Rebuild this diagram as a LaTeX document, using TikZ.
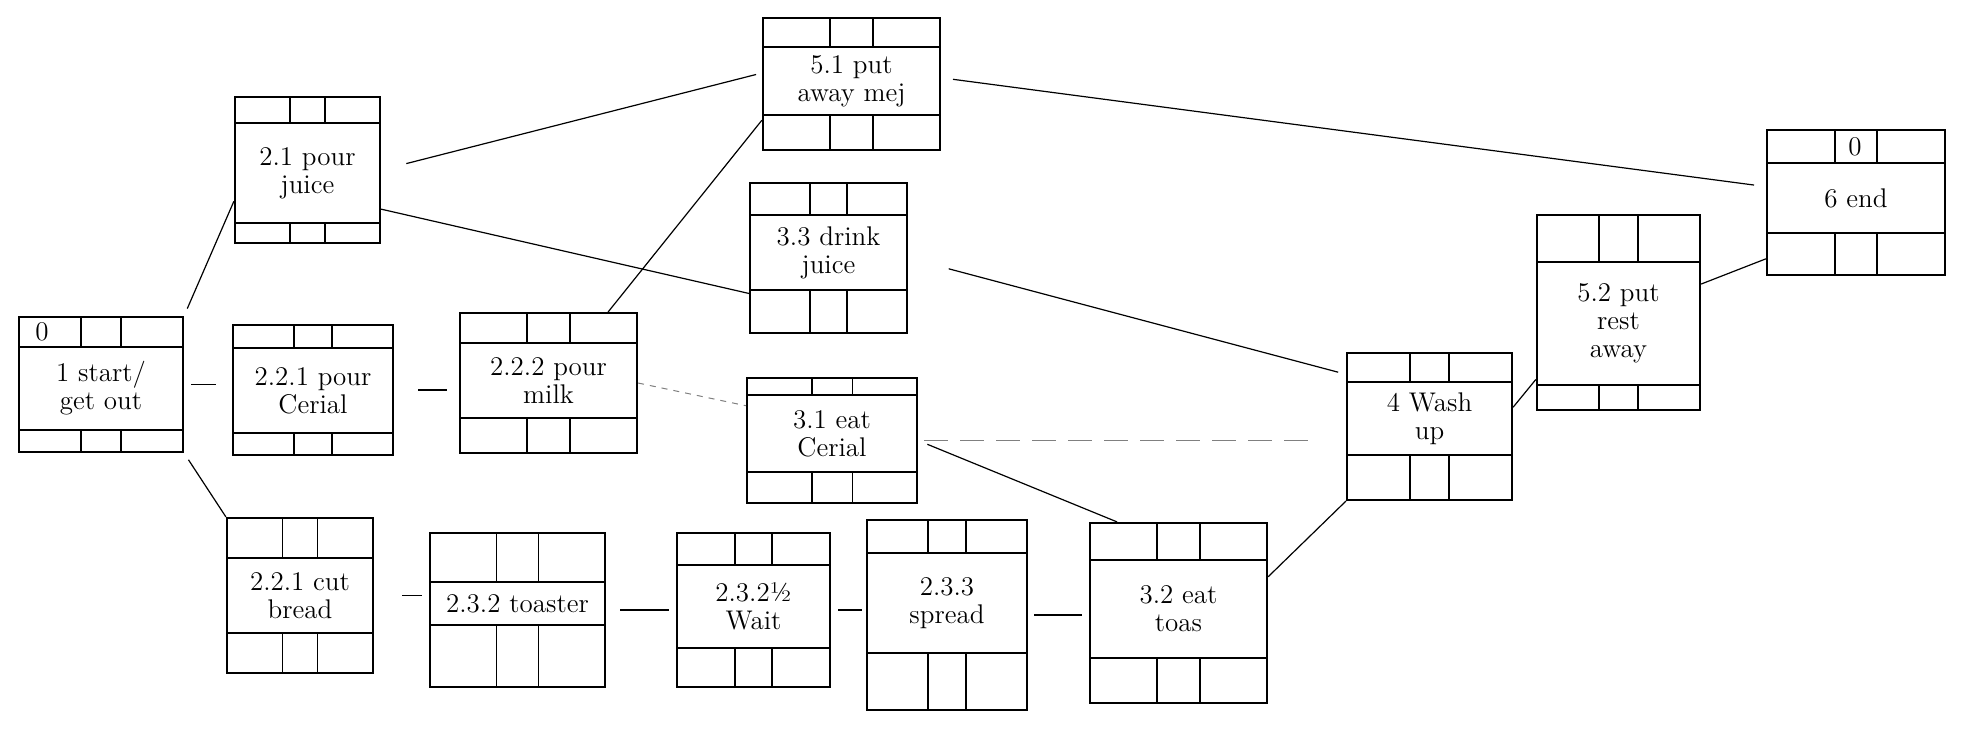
\documentclass[tikz,border=0pt]{standalone}
\usetikzlibrary{fit}
% one activity box: name, x0, y0, x1, y1, top divider, bottom divider, text
\newcommand{\actbox}[8]{%
  \node[actnode, fit={(#2,#3) (#4,#5)}] (#1) {};
  \draw[cell] (#2,#6) -- (#4,#6) (#2,#7) -- (#4,#7);
  \draw[cell] ({#2+0.38*(#4-#2)},#3) -- ({#2+0.38*(#4-#2)},#6)
    ({#2+0.62*(#4-#2)},#3) -- ({#2+0.62*(#4-#2)},#6)
    ({#2+0.38*(#4-#2)},#7) -- ({#2+0.38*(#4-#2)},#5)
    ({#2+0.62*(#4-#2)},#7) -- ({#2+0.62*(#4-#2)},#5);
  \node[tasktext] (#1-t) at ({(#2+#4)/2},{(#6+#7)/2}) {#8};
}
\begin{document}
\begin{tikzpicture}[x=0.5pt, y=-0.5pt,
    actnode/.style={draw, line width=1.1pt, inner sep=0pt},
    cell/.style={line width=0.9pt},
    tasktext/.style={align=center, font=\fontsize{13.5}{14}\selectfont, inner sep=1pt},
    link/.style={line width=0.6pt},
    faint/.style={line width=0.5pt, gray, dashed}]
  \useasboundingbox (0,0) rectangle (1980,730);
  \actbox{start}{19}{317}{183}{452}{347}{430}{1 start/\\get out}
  \actbox{pourjuice}{235}{97}{380}{243}{123}{223}{2.1 pour\\juice}
  \actbox{pourcereal}{233}{325}{393}{455}{348}{433}{2.2.1 pour\\Cerial}
  \actbox{pourmilk}{460}{313}{637}{453}{343}{418}{2.2.2 pour\\milk}
  \actbox{putaway}{763}{18}{940}{150}{47}{115}{5.1 put\\away mej}
  \actbox{drink}{750}{183}{907}{333}{215}{290}{3.3 drink\\juice}
  \actbox{eatcereal}{747}{378}{917}{503}{395}{472}{3.1 eat\\Cerial}
  \actbox{cutbread}{227}{518}{373}{673}{558}{633}{2.2.1 cut\\bread}
  \actbox{toaster}{430}{533}{605}{687}{582}{625}{2.3.2 toaster}
  \actbox{wait}{677}{533}{830}{687}{565}{648}{2.3.2½\\Wait}
  \actbox{spread}{867}{520}{1027}{710}{553}{653}{2.3.3\\spread}
  \actbox{eattoast}{1090}{523}{1267}{703}{560}{658}{3.2 eat\\toas}
  \actbox{wash}{1347}{353}{1512}{500}{382}{455}{4 Wash\\up}
  \actbox{putrest}{1537}{215}{1700}{410}{262}{385}{5.2 put\\rest\\away}
  \actbox{end}{1767}{130}{1945}{275}{163}{233}{6 end}
  \node[tasktext] (start-es) at (42,332) {0};
  \node[tasktext] (end-es) at (1855,147) {0};
  % links
  \draw[link, shorten <=4pt] (start.north east) -- (pourjuice.203);
  \draw[link, shorten <=3.5pt, shorten >=8pt] (start.east) -- (start.east -| pourcereal.west);
  \draw[link, shorten <=4pt] (start.south east) -- (cutbread.north west);
  \draw[link, shorten <=13pt, shorten >=3pt] (pourjuice.east) -- (putaway.173);
  \draw[link] (pourjuice.-28) -- (drink.204);
  \draw[link, shorten <=12pt, shorten >=6pt] (pourcereal.east) -- (pourcereal.east -| pourmilk.west);
  \draw[link] (pourmilk.50) -- (putaway.202);
  \draw[faint] (pourmilk.east) -- (eatcereal.158);
  \draw[link, shorten <=6pt, shorten >=6pt] (putaway.4) -- (end.170);
  \draw[link, shorten <=21pt, shorten >=4pt] (drink.east) -- (wash.148);
  \draw[faint, dash pattern=on 12pt off 6pt, shorten <=3pt, shorten >=17pt] (eatcereal.east) -- (eatcereal.east -| wash.west);
  \draw[link, shorten <=5pt] (eatcereal.east) -- (eattoast.124);
  \draw[link, shorten <=14pt, shorten >=3.5pt] (cutbread.east) -- (cutbread.east -| toaster.west);
  \draw[link, shorten <=7pt, shorten >=3.5pt] (toaster.east) -- (toaster.east -| wait.west);
  \draw[link, shorten <=3.5pt, shorten >=2pt] (wait.east) -- (wait.east -| spread.west);
  \draw[link, shorten <=3pt, shorten >=3.5pt] (spread.east) -- (spread.east -| eattoast.west);
  \draw[link] (eattoast.22) -- (wash.south west);
  \draw[link] (wash.13) -- (putrest.219);
  \draw[link] (putrest.19) -- (end.212);
\end{tikzpicture}
\end{document}
